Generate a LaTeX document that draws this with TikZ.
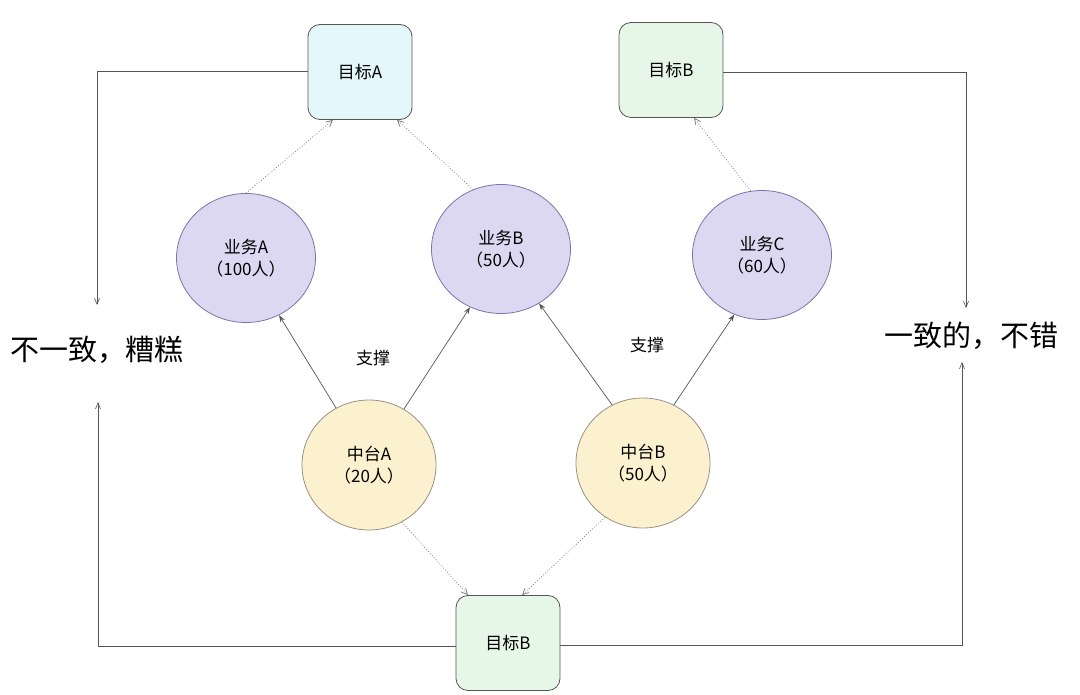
\documentclass[tikz,border=0pt]{standalone}
\usepackage{fontspec}
\setmainfont{Noto Sans CJK SC}
\usetikzlibrary{arrows.meta,shapes.geometric}
\definecolor{cyanfill}{HTML}{E3F7FA}
\definecolor{greenfill}{HTML}{E6F7E8}
\definecolor{lavfill}{HTML}{DCD8F2}
\definecolor{lavdraw}{HTML}{7E74A8}
\definecolor{yelfill}{HTML}{FCF1CF}
\definecolor{yeldraw}{HTML}{9A9080}
\definecolor{linegray}{HTML}{555555}
\tikzset{
  goalbox/.style={draw=linegray, rounded corners=12pt, minimum width=104pt, minimum height=95pt, font=\fontsize{17}{20}\selectfont, line width=0.8pt},
  bizell/.style={ellipse, draw=lavdraw, fill=lavfill, minimum width=139pt, minimum height=129pt, inner sep=0pt, align=center, font=\fontsize{17}{22}\selectfont, line width=0.8pt},
  midell/.style={ellipse, draw=yeldraw, fill=yelfill, minimum width=134pt, minimum height=130pt, inner sep=0pt, align=center, font=\fontsize{17}{22}\selectfont, line width=0.8pt},
  solidarrow/.style={draw=linegray, line width=0.7pt, -{Stealth[length=7pt,width=5pt]}},
  dotarrow/.style={draw=gray, line width=0.8pt, dotted, -{Straight Barb[length=6pt,width=6pt]}},
  sidearrow/.style={draw=linegray, line width=0.6pt, -{Straight Barb[length=6pt,width=5pt]}},
  biglabel/.style={font=\fontsize{29}{32}\selectfont},
  midlabel/.style={font=\fontsize{17}{20}\selectfont}
}
\begin{document}
\begin{tikzpicture}[x=1pt,y=-1pt]
\useasboundingbox (0,0) rectangle (1080,695);
% goal boxes
\node[goalbox, fill=cyanfill] (gA) at (360,72) {目标A};
\node[goalbox, fill=greenfill] (gBt) at (671,70) {目标B};
\node[goalbox, fill=greenfill] (gBb) at (508,643) {目标B};
% business ellipses
\node[bizell] (bA) at (246,258) {业务A\\（100人）};
\node[bizell] (bB) at (501,249) {业务B\\（50人）};
\node[bizell] (bC) at (762,255) {业务C\\（60人）};
% middle platforms
\node[midell] (mA) at (369,465) {中台A\\（20人）};
\node[midell] (mB) at (643,463) {中台B\\（50人）};
% labels
\node[midlabel] (s1) at (373,358) {支撑};
\node[midlabel] (s2) at (647,345) {支撑};
\node[biglabel] (bad) at (97,350) {不一致，糟糕};
\node[biglabel] (good) at (971,336) {一致的，不错};
% coordinates for side connectors
\coordinate (c1) at (97,71);
\coordinate (c2) at (98,646);
\coordinate (c3) at (966,72);
\coordinate (c4) at (962,645);
% side connectors
\draw[sidearrow] (gA.west |- 0,71) -- (c1) -- (97,305);
\draw[sidearrow] (gBb.west |- 0,646) -- (c2) -- (98,402);
\draw[sidearrow] (gBt.east |- 0,72) -- (c3) -- (966,308);
\draw[sidearrow] (gBb.east |- 0,645) -- (c4) -- (962,362);
% solid support arrows
\draw[solidarrow] (mA.120) -- (bA.-60);
\draw[solidarrow] (mA.58) -- (bB.-118);
\draw[solidarrow] (mB.118) -- (bB.-55);
\draw[solidarrow] (mB.62) -- (bC.-115);
% dotted arrows to goals
\draw[dotarrow] (bA.90) -- ([xshift=-27pt]gA.south);
\draw[dotarrow] (bB.115) -- ([xshift=37pt]gA.south);
\draw[dotarrow] (bC.100) -- ([xshift=23pt]gBt.south);
\draw[dotarrow] (mA.-60) -- ([xshift=-40pt]gBb.north);
\draw[dotarrow] (mB.-125) -- ([xshift=14pt]gBb.north);
\end{tikzpicture}
\end{document}
